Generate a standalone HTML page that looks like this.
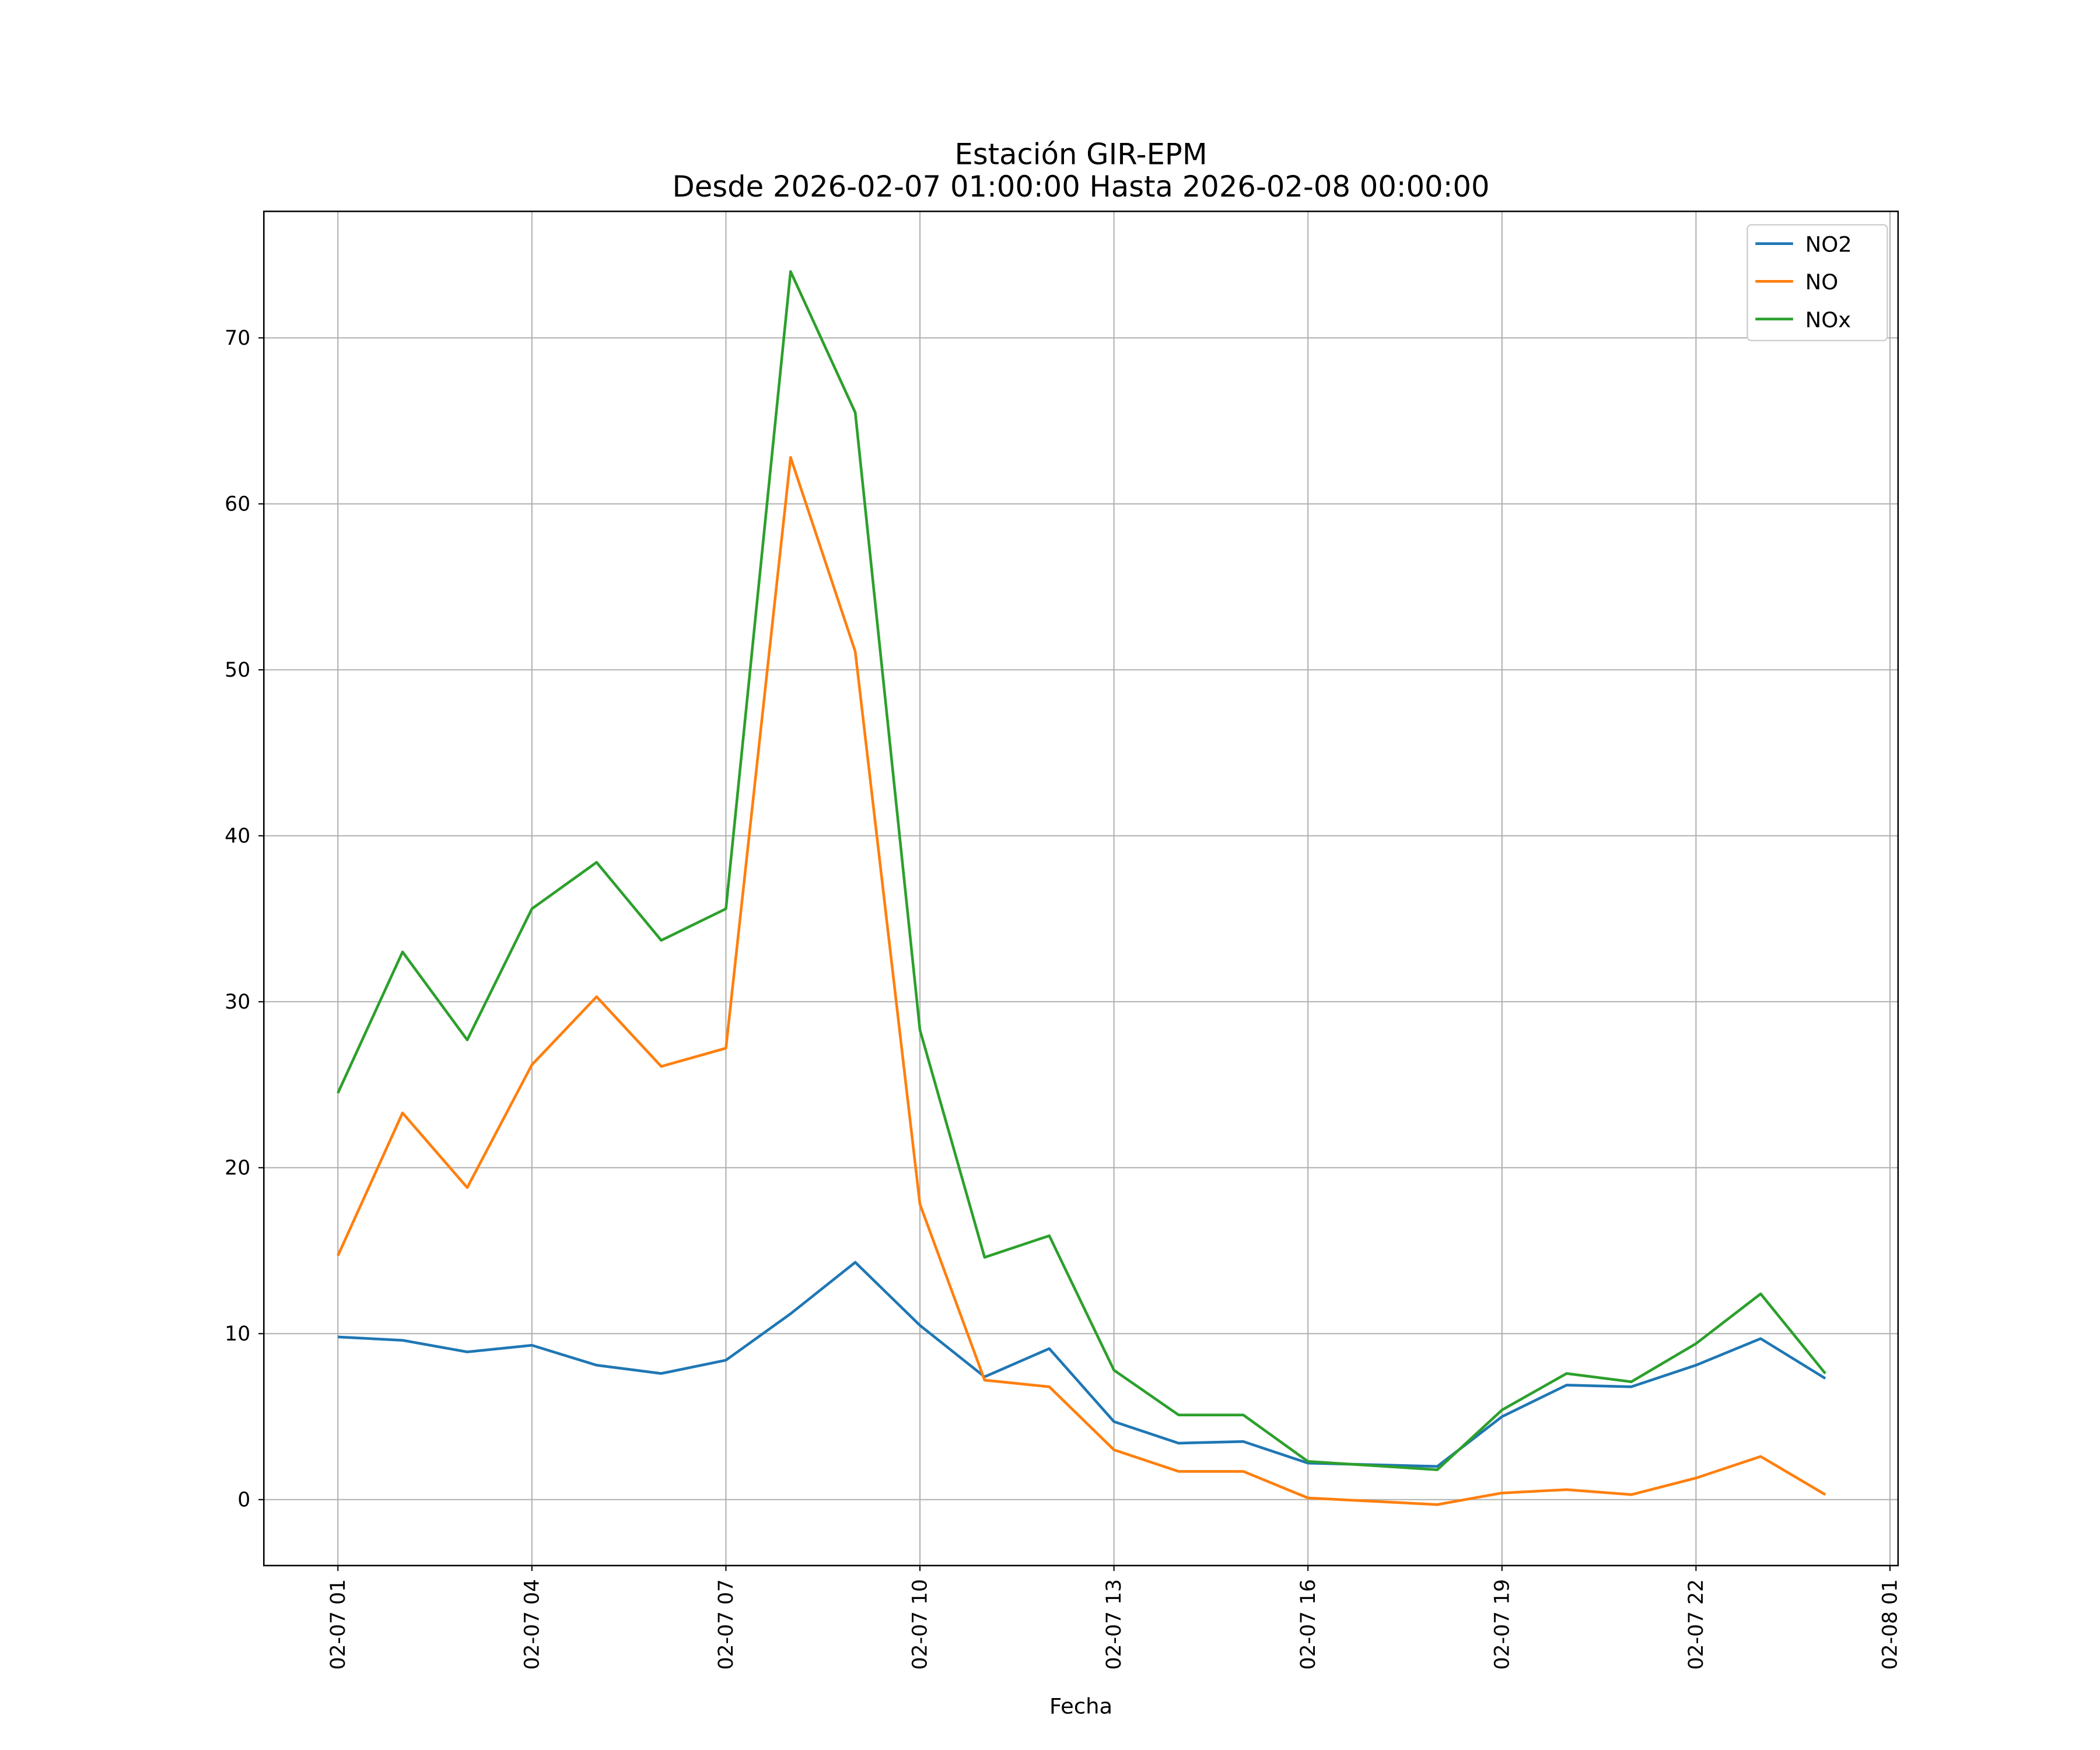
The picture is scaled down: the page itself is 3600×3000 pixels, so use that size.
<!DOCTYPE html>
<html><head><meta charset="utf-8"><style>
html,body{margin:0;padding:0;background:#fff;}
svg{display:block;font-family:"DejaVu Sans","Liberation Sans",sans-serif;}
</style></head><body>
<svg id="chart" width="3600" height="3000" viewBox="0 0 1560 1300" xmlns="http://www.w3.org/2000/svg">
<rect width="1560" height="1300" fill="#fff"/>
<text x="803" y="122" text-anchor="middle" font-size="21.5">Estación GIR-EPM</text>
<text x="803" y="146" text-anchor="middle" font-size="21.5">Desde 2026-02-07 01:00:00 Hasta 2026-02-08 00:00:00</text>
<g id="grid"></g>
<g id="series"></g>
<rect x="196" y="157" width="1214" height="1006" fill="none" stroke="#000" stroke-width="1.1"/>
<g id="axes"></g>
<text x="803" y="1273" text-anchor="middle" font-size="16">Fecha</text>
<g>
<rect x="1298" y="167" width="104" height="86" fill="#fff" stroke="#ccc" rx="3"/>
<line x1="1304" y1="181" x2="1332" y2="181" stroke="#1f77b4" stroke-width="2"/>
<text x="1341" y="187" font-size="16">NO2</text>
<line x1="1304" y1="209" x2="1332" y2="209" stroke="#ff7f0e" stroke-width="2"/>
<text x="1341" y="215" font-size="16">NO</text>
<line x1="1304" y1="237" x2="1332" y2="237" stroke="#2ca02c" stroke-width="2"/>
<text x="1341" y="243" font-size="16">NOx</text>
</g>
</svg>
<script>
const hours=[1,2,3,4,5,6,7,8,9,10,11,12,13,14,15,16,18,19,20,21,22,23,24];
const no2=[9.8,9.6,8.9,9.3,8.1,7.6,8.4,11.2,14.3,10.5,7.4,9.1,4.7,3.4,3.5,2.2,2.0,5.0,6.9,6.8,8.1,9.7,7.3];
const no=[14.7,23.3,18.8,26.2,30.3,26.1,27.2,62.8,51.1,17.8,7.2,6.8,3.0,1.7,1.7,0.1,-0.3,0.4,0.6,0.3,1.3,2.6,0.3];
const nox=[24.5,33.0,27.7,35.6,38.4,33.7,35.6,74.0,65.5,28.3,14.6,15.9,7.8,5.1,5.1,2.3,1.8,5.4,7.6,7.1,9.4,12.4,7.6];
const yTicks=[0,10,20,30,40,50,60,70];
const xTickHours=[1,4,7,10,13,16,19,22,25];
const xTickLabels=["02-07 01","02-07 04","02-07 07","02-07 10","02-07 13","02-07 16","02-07 19","02-07 22","02-08 01"];

const NS="http://www.w3.org/2000/svg";
function xs(h){return 251+(h-1)*(1404-251)/24;}
function ys(v){return 1114-v*(1114-251)/70;}
function mk(tag,attrs,parent){const e=document.createElementNS(NS,tag);for(const k in attrs)e.setAttribute(k,attrs[k]);parent.appendChild(e);return e;}
const grid=document.getElementById('grid'),axes=document.getElementById('axes'),series=document.getElementById('series');
yTicks.forEach(v=>{
  const y=ys(v);
  const g=mk('line',{x1:196,x2:1410,y1:y,y2:y,stroke:'#b0b0b0','stroke-width':0.9},grid);
  
  
  mk('line',{x1:192,x2:196,y1:y,y2:y,stroke:'#000','stroke-width':0.9},axes);
  const t=mk('text',{x:186,y:y+5,'text-anchor':'end','font-size':15},axes);
  t.textContent=v;
  
  
});
xTickHours.forEach((h,i)=>{
  const x=xs(h);
  const g=mk('line',{x1:x,x2:x,y1:157,y2:1163,stroke:'#b0b0b0','stroke-width':0.9},grid);
  
  
  mk('line',{x1:x,x2:x,y1:1163,y2:1167,stroke:'#000','stroke-width':0.9},axes);
  const t=mk('text',{x:0,y:0,'text-anchor':'end','font-size':15,transform:`translate(${x+5},1173) rotate(-90)`},axes);
  t.textContent=xTickLabels[i];
  
  
});
[[no2,'#1f77b4','line-no2'],[no,'#ff7f0e','line-no'],[nox,'#2ca02c','line-nox']].forEach(([d,c,n])=>{
  const pts=d.map((v,i)=>xs(hours[i]).toFixed(2)+','+ys(v).toFixed(2)).join(' ');
  const p=mk('polyline',{points:pts,fill:'none',stroke:c,'stroke-width':2,'stroke-linejoin':'round'},series);
  
  
});
</script>
</body></html>
